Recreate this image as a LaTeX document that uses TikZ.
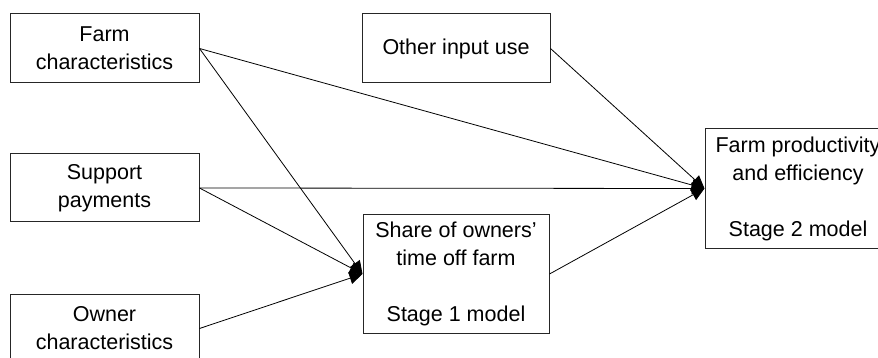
\documentclass[tikz,border=0pt]{standalone}
\usepackage{fontspec}
\setmainfont{Liberation Sans}
\usetikzlibrary{arrows.meta}
\begin{document}
\begin{tikzpicture}[x=1pt,y=-1pt,
  box/.style={draw=black!85, line width=1pt, fill=white, inner sep=0pt,
    align=center, font=\fontsize{21.5}{28}\selectfont, text=black},
  link/.style={draw=black, line width=0.8pt,
    -{Triangle[length=13pt,width=12pt]}}]
  \useasboundingbox (0,0) rectangle (878,358);
  \clip (0,0) rectangle (878,358);
  \fill[white] (0,0) rectangle (878,358);

  % input boxes
  \node[box, minimum width=189, minimum height=69] (farm) at (104.5,48.5) {Farm\\characteristics};
  \node[box, minimum width=189, minimum height=68] (support) at (104.5,188) {Support\\payments};
  \node[box, minimum width=189, minimum height=69] (owner) at (104.5,328.5) {Owner\\characteristics};
  \node[box, minimum width=188, minimum height=69] (other) at (456,48.5) {Other input use};

  % model stages
  \node[box, minimum width=186, minimum height=118] (share) at (456,274)
    {Share of owners\char"27\\time off farm\\[28pt]Stage 1 model};
  \node[box, minimum width=186, minimum height=119] (prod) at (798,188.5)
    {Farm productivity\\and efficiency\\[28pt]Stage 2 model};

  % effects on stage 1
  \draw[link] (farm.east) -- (share.west);
  \draw[link] (support.east) -- (share.west);
  \draw[link] (owner.east) -- (share.west);

  % effects on stage 2
  \draw[link] (farm.east) -- (prod.west);
  \draw[link] (support.east) -- (prod.west);
  \draw[link] (other.east) -- (prod.west);
  \draw[link] (share.east) -- (prod.west);
\end{tikzpicture}
\end{document}
